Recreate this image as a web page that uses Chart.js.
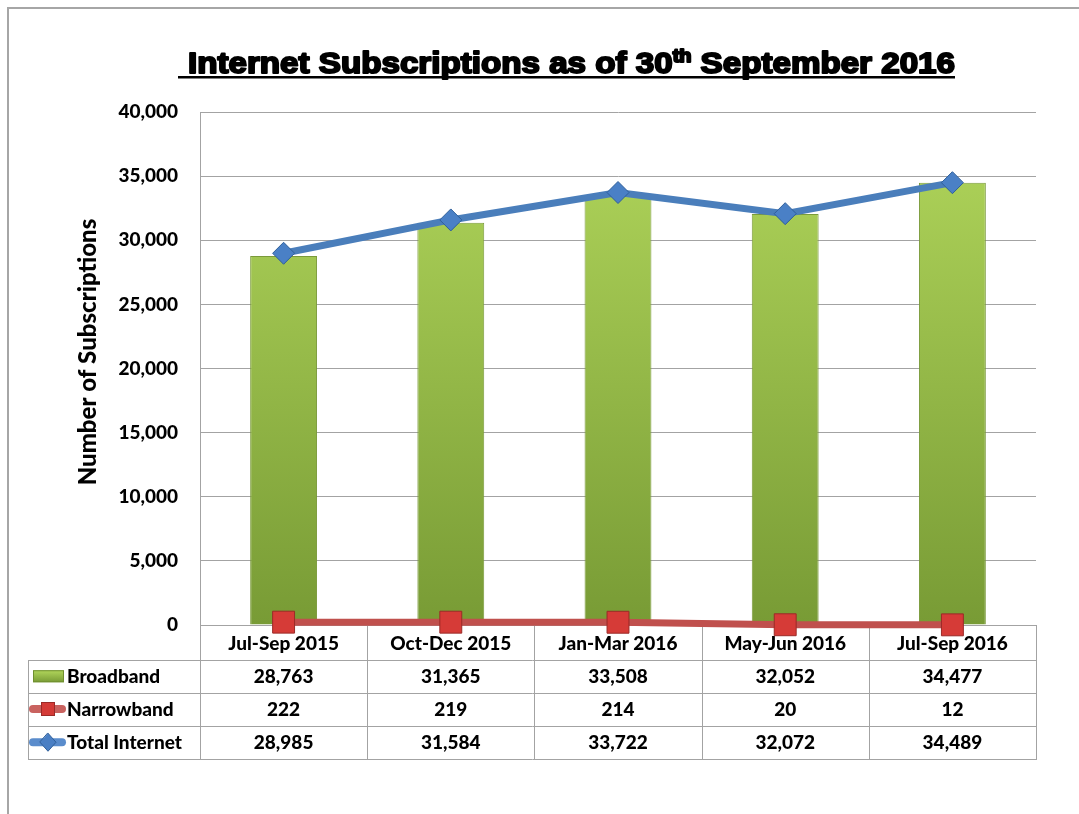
<!DOCTYPE html>
<html lang="en">
<head>
<meta charset="UTF-8">
<title>Internet Subscriptions</title>
<script src="https://cdn.jsdelivr.net/npm/chart.js"></script>
<style>
  body { margin: 0; background: #fff; }
  #chart { display: block; }
</style>
</head>
<body>
<canvas id="chart" width="1079" height="814"></canvas>
<script>
// data
const quarters = ['Jul-Sep 2015', 'Oct-Dec 2015', 'Jan-Mar 2016', 'May-Jun 2016', 'Jul-Sep 2016'];
const broadband = [28763, 31365, 33508, 32052, 34477];
const narrowband = [222, 219, 214, 20, 12];
const totalInternet = [28985, 31584, 33722, 32072, 34489];
const seriesNames = ['Broadband', 'Narrowband', 'Total Internet'];
const yMin = 0, yMax = 40000, yStep = 5000;

const FONT = 'Lato, "Open Sans", sans-serif';
const WEIGHT = '900';
const GRID = '#a3a3a3';
const fmt = v => v.toLocaleString('en-US');

function greenGradient(c, top, bottom) {
    const g = c.createLinearGradient(0, top, 0, bottom);
    g.addColorStop(0, '#b2d75c');
    g.addColorStop(1, '#789b35');
    return g;
}

// draws the data table under the plot, with legend keys
const dataTable = {
    id: 'dataTable',
    beforeDatasetsDraw(chart) {
        const c = chart.ctx;
        const x = chart.scales.x;
        const area = chart.chartArea;
        const tableLeft = 28;
        const rows = [area.bottom, 660, 692.5, 725.5, 759];
        const half = (x.getPixelForValue(1) - x.getPixelForValue(0)) / 2;
        const edges = quarters.map((q, i) => x.getPixelForValue(i) - half);
        edges.push(area.right);

        c.save();
        c.strokeStyle = GRID;
        c.lineWidth = 1;
        c.beginPath();
        edges.forEach(e => {
            c.moveTo(Math.round(e) + 0.5, rows[0]);
            c.lineTo(Math.round(e) + 0.5, rows[4]);
        });
        c.moveTo(tableLeft + 0.5, rows[1]);
        c.lineTo(tableLeft + 0.5, rows[4]);
        for (let r = 1; r < rows.length; r++) {
            c.moveTo(tableLeft, Math.round(rows[r]) + 0.5);
            c.lineTo(area.right + 1, Math.round(rows[r]) + 0.5);
        }
        c.stroke();

        c.fillStyle = '#000';
        c.font = WEIGHT + ' 19px ' + FONT;
        c.textAlign = 'center';
        c.textBaseline = 'middle';
        quarters.forEach((q, i) => c.fillText(q, x.getPixelForValue(i), (rows[0] + rows[1]) / 2 + 1));
        [broadband, narrowband, totalInternet].forEach((arr, r) => {
            const cy = (rows[r + 1] + rows[r + 2]) / 2 + 1;
            arr.forEach((v, i) => c.fillText(fmt(v), x.getPixelForValue(i), cy));
        });

        // row labels and keys
        c.textAlign = 'left';
        seriesNames.forEach((n, r) => {
            const cy = (rows[r + 1] + rows[r + 2]) / 2 + 1;
            c.fillStyle = '#000';
            c.fillText(n, 67, cy);
        });
        let cy = (rows[1] + rows[2]) / 2;
        c.fillStyle = greenGradient(c, cy - 6, cy + 6);
        c.fillRect(33, cy - 6, 31, 12);
        c.strokeStyle = '#6f8f2f';
        c.strokeRect(33.5, cy - 5.5, 30, 11);

        cy = (rows[2] + rows[3]) / 2;
        c.lineCap = 'round';
        c.lineWidth = 8;
        c.strokeStyle = '#c9625f';
        c.beginPath(); c.moveTo(33, cy); c.lineTo(62, cy); c.stroke();
        c.fillStyle = '#d43a36';
        c.fillRect(41, cy - 7, 14, 14);
        c.lineWidth = 1;
        c.strokeStyle = '#9b2a27';
        c.strokeRect(41.5, cy - 6.5, 13, 13);

        cy = (rows[3] + rows[4]) / 2;
        c.lineWidth = 8;
        c.strokeStyle = '#5a8ccc';
        c.beginPath(); c.moveTo(33, cy); c.lineTo(62, cy); c.stroke();
        c.fillStyle = '#4a7fc4';
        c.strokeStyle = '#2f5f9a';
        c.lineWidth = 1;
        c.beginPath();
        c.moveTo(48, cy - 9); c.lineTo(56, cy); c.lineTo(48, cy + 9); c.lineTo(40, cy); c.closePath();
        c.fill(); c.stroke();
        c.restore();
    },
    afterDraw(chart) {
        const c = chart.ctx;
        c.save();
        // frame
        c.strokeStyle = '#a6a6a6';
        c.lineWidth = 2;
        c.beginPath();
        c.moveTo(8, 814); c.lineTo(8, 8); c.lineTo(1079, 8);
        c.stroke();

        // title with superscript, stretched to the reference width
        const base = 'bold 30px "Liberation Sans", Arial, sans-serif';
        const small = 'bold 18px "Liberation Sans", Arial, sans-serif';
        const p1 = 'Internet Subscriptions as of 30', sup = 'th', p2 = ' September 2016';
        c.font = base; const w1 = c.measureText(p1).width, w3 = c.measureText(p2).width;
        c.font = small; const w2 = c.measureText(sup).width;
        const sx = (955 - 188) / (w1 + w2 + w3);
        c.translate(188, 0);
        c.scale(sx, 1);
        c.fillStyle = '#000';
        c.strokeStyle = '#000';
        c.lineWidth = 2;
        c.lineJoin = 'round';
        c.textBaseline = 'alphabetic';
        c.font = base;
        c.fillText(p1, 0, 73); c.strokeText(p1, 0, 73);
        c.fillText(p2, w1 + w2, 73); c.strokeText(p2, w1 + w2, 73);
        c.font = small;
        c.fillText(sup, w1, 62); c.strokeText(sup, w1, 62);
        c.setTransform(1, 0, 0, 1, 0, 0);
        c.fillRect(178, 76, 955 - 178, 2.5);

        // y axis title
        c.translate(88, 352);
        c.rotate(-Math.PI / 2);
        c.font = WEIGHT + ' 24px ' + FONT;
        c.textAlign = 'center';
        c.textBaseline = 'middle';
        c.fillText('Number of Subscriptions', 0, 0);
        c.restore();
    }
};

const ctx = document.getElementById('chart').getContext('2d');
new Chart(ctx, {
    data: {
        labels: quarters,
        datasets: [{
            type: 'line',
            label: seriesNames[2],
            data: totalInternet,
            order: 1,
            borderColor: '#4a7ebb',
            borderWidth: 7,
            tension: 0,
            pointStyle: 'rectRot',
            pointRadius: 11,
            pointBackgroundColor: '#4a80c6',
            pointBorderColor: '#2f5f9a',
            pointBorderWidth: 1,
            clip: false
        }, {
            type: 'line',
            label: seriesNames[1],
            data: narrowband,
            order: 2,
            borderColor: '#c0504d',
            borderWidth: 7,
            tension: 0,
            pointStyle: 'rect',
            pointRadius: 15.5,
            pointBackgroundColor: '#d63b37',
            pointBorderColor: '#9b2a27',
            pointBorderWidth: 1,
            clip: false
        }, {
            type: 'bar',
            label: seriesNames[0],
            data: broadband,
            order: 3,
            backgroundColor: context => {
                const a = context.chart.chartArea;
                if (!a) return '#9bbb59';
                return greenGradient(context.chart.ctx, a.top, a.bottom);
            },
            borderColor: '#7a9a3a',
            borderWidth: 1,
            barPercentage: 0.8,
            categoryPercentage: 0.5
        }]
    },
    options: {
        responsive: false,
        animation: false,
        layout: { padding: { left: 0, top: 112, right: 43, bottom: 189 } },
        plugins: {
            legend: { display: false },
            tooltip: { enabled: false },
            title: { display: false }
        },
        scales: {
            x: { display: false },
            y: {
                min: yMin,
                max: yMax,
                afterFit: scale => { scale.width = 200; },
                ticks: {
                    stepSize: yStep,
                    padding: 22,
                    color: '#000',
                    font: { family: FONT, size: 19, weight: WEIGHT },
                    callback: v => fmt(v)
                },
                grid: { color: GRID, drawTicks: false },
                border: { display: true, color: GRID }
            }
        }
    },
    plugins: [dataTable]
});
</script>
</body>
</html>
